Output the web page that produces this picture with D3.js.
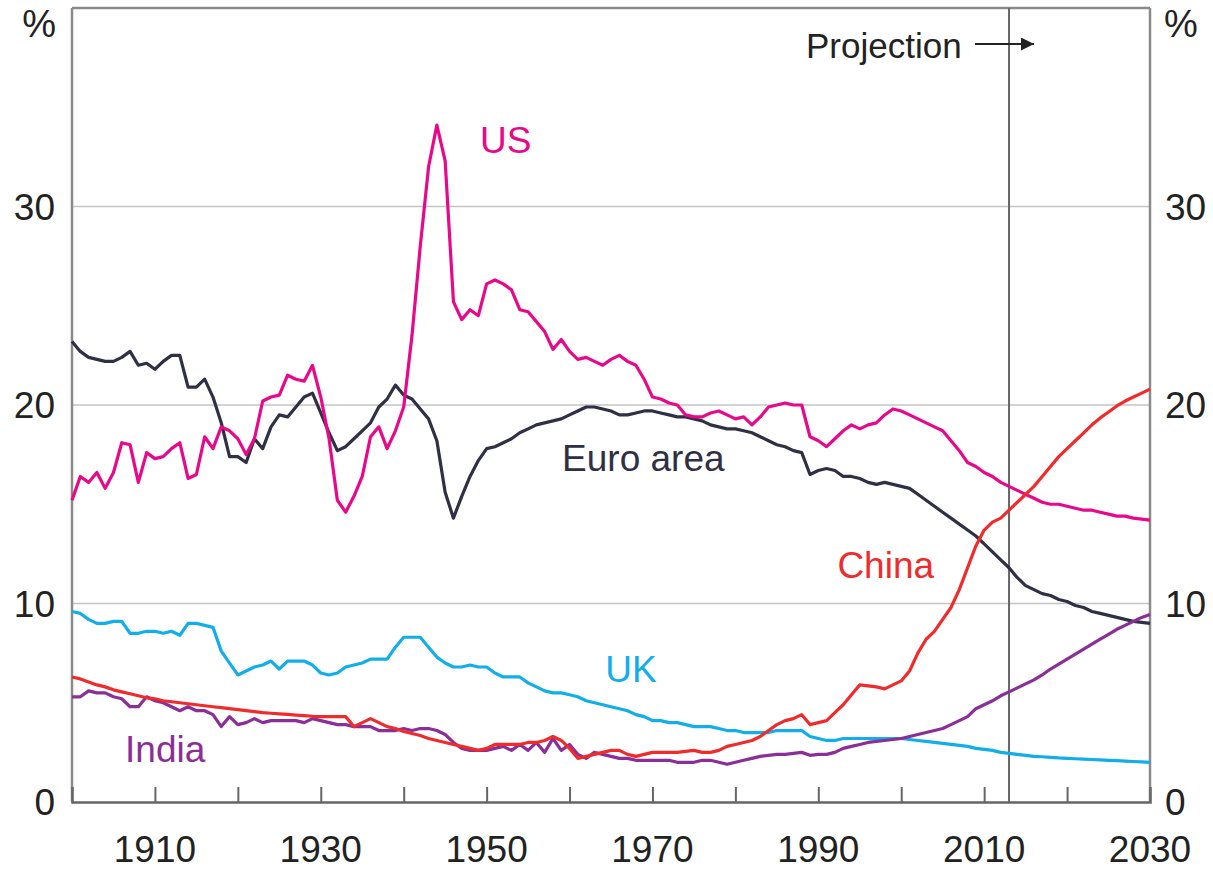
<!DOCTYPE html>
<html>
<head>
<meta charset="utf-8">
<script src="https://cdn.jsdelivr.net/npm/d3@7"></script>
<style>
html,body{margin:0;padding:0;background:#fff;}
svg{display:block;}
text{font-family:"Liberation Sans",Arial,Helvetica,sans-serif;}
</style>
</head>
<body>
<svg id="chart" width="1213" height="869"></svg>
<script>
const startYear = 1900;
const endYear = 2030;
const projectionYear = 2013;

const usValues = [
15.2,16.4,16.1,16.6,15.8,16.6,18.1,18.0,16.1,17.6,
17.3,17.4,17.8,18.1,16.3,16.5,18.4,17.8,18.9,18.7,
18.3,17.5,18.3,20.2,20.4,20.5,21.5,21.3,21.2,22.0,
20.4,18.3,15.2,14.6,15.4,16.4,18.4,18.9,17.8,18.7,
19.9,23.5,28.0,32.0,34.1,32.3,25.2,24.3,24.8,24.5,
26.1,26.3,26.1,25.8,24.8,24.7,24.2,23.7,22.8,23.3,
22.7,22.3,22.4,22.2,22.0,22.3,22.5,22.2,22.0,21.3,
20.4,20.3,20.1,20.0,19.5,19.4,19.4,19.6,19.7,19.5,
19.3,19.4,19.0,19.4,19.9,20.0,20.1,20.0,20.0,18.4,
18.2,17.9,18.3,18.7,19.0,18.8,19.0,19.1,19.5,19.8,
19.7,19.5,19.3,19.1,18.9,18.7,18.2,17.7,17.1,16.9,
16.6,16.4,16.1,15.9,15.7,15.5,15.3,15.1,15.0,15.0,
14.9,14.8,14.7,14.7,14.6,14.5,14.4,14.4,14.3,14.25,14.2];

const euroValues = [
23.2,22.7,22.4,22.3,22.2,22.2,22.4,22.7,22.0,22.1,
21.8,22.2,22.5,22.5,20.9,20.9,21.3,20.4,19.1,17.4,
17.4,17.1,18.3,17.8,18.9,19.5,19.4,19.9,20.4,20.6,
19.6,18.6,17.7,17.9,18.3,18.7,19.1,19.9,20.3,21.0,
20.5,20.3,19.8,19.3,18.2,15.6,14.3,15.4,16.4,17.2,
17.8,17.9,18.1,18.3,18.6,18.8,19.0,19.1,19.2,19.3,
19.5,19.7,19.9,19.9,19.8,19.7,19.5,19.5,19.6,19.7,
19.7,19.6,19.5,19.4,19.4,19.3,19.2,19.0,18.9,18.8,
18.8,18.7,18.6,18.4,18.2,18.0,17.9,17.7,17.6,16.5,
16.7,16.8,16.7,16.4,16.4,16.3,16.1,16.0,16.1,16.0,
15.9,15.8,15.5,15.2,14.9,14.6,14.3,14.0,13.7,13.4,
13.0,12.6,12.2,11.8,11.3,10.9,10.7,10.5,10.4,10.2,
10.1,9.9,9.8,9.6,9.5,9.4,9.3,9.2,9.1,9.05,9.0];

const ukValues = [
9.6,9.5,9.2,9.0,9.0,9.1,9.1,8.5,8.5,8.6,
8.6,8.5,8.6,8.4,9.0,9.0,8.9,8.8,7.6,7.0,
6.4,6.6,6.8,6.9,7.1,6.7,7.1,7.1,7.1,6.9,
6.5,6.4,6.5,6.8,6.9,7.0,7.2,7.2,7.2,7.8,
8.3,8.3,8.3,7.8,7.3,7.0,6.8,6.8,6.9,6.8,
6.8,6.5,6.3,6.3,6.3,6.0,5.8,5.6,5.5,5.5,
5.4,5.3,5.1,5.0,4.9,4.8,4.7,4.6,4.4,4.3,
4.1,4.1,4.0,4.0,3.9,3.8,3.8,3.8,3.7,3.6,
3.6,3.5,3.5,3.5,3.5,3.6,3.6,3.6,3.6,3.3,
3.2,3.1,3.1,3.2,3.2,3.2,3.2,3.2,3.2,3.2,
3.2,3.15,3.1,3.05,3.0,2.95,2.9,2.85,2.8,2.7,
2.65,2.6,2.5,2.45,2.4,2.35,2.3,2.28,2.25,2.22,
2.2,2.18,2.16,2.14,2.12,2.1,2.08,2.06,2.04,2.02,2.0];

const chinaValues = [
6.3,6.2,6.05,5.9,5.8,5.65,5.55,5.45,5.35,5.25,
5.2,5.1,5.05,5.0,4.95,4.9,4.85,4.8,4.75,4.7,
4.65,4.6,4.55,4.5,4.47,4.44,4.41,4.38,4.35,4.32,
4.3,4.3,4.3,4.3,3.8,4.0,4.2,4.0,3.8,3.7,
3.55,3.45,3.35,3.2,3.1,3.0,2.9,2.8,2.7,2.6,
2.7,2.9,2.9,2.9,2.9,3.0,3.0,3.1,3.3,3.1,
2.7,2.2,2.3,2.4,2.5,2.6,2.6,2.4,2.3,2.4,
2.5,2.5,2.5,2.5,2.55,2.6,2.5,2.5,2.6,2.8,
2.9,3.0,3.1,3.3,3.6,3.9,4.1,4.2,4.4,3.9,
4.0,4.1,4.5,4.9,5.4,5.9,5.85,5.8,5.7,5.9,
6.1,6.6,7.5,8.2,8.6,9.2,9.8,10.7,11.8,12.9,
13.7,14.1,14.3,14.7,15.1,15.5,15.9,16.4,16.9,17.4,
17.8,18.2,18.6,19.0,19.35,19.65,19.95,20.2,20.4,20.6,20.8];

const indiaValues = [
5.3,5.3,5.6,5.5,5.5,5.3,5.2,4.8,4.8,5.3,
5.1,5.0,4.8,4.6,4.8,4.6,4.6,4.4,3.8,4.3,
3.9,4.0,4.2,4.0,4.1,4.1,4.1,4.1,4.0,4.2,
4.1,4.0,3.9,3.9,3.8,3.8,3.8,3.6,3.6,3.6,
3.7,3.6,3.7,3.7,3.6,3.4,3.0,2.7,2.6,2.6,
2.6,2.7,2.8,2.6,2.9,2.6,3.0,2.5,3.2,2.6,
2.9,2.4,2.2,2.5,2.4,2.3,2.2,2.2,2.1,2.1,
2.1,2.1,2.1,2.0,2.0,2.0,2.1,2.1,2.0,1.9,
2.0,2.1,2.2,2.3,2.35,2.4,2.4,2.45,2.5,2.35,
2.4,2.4,2.5,2.7,2.8,2.9,3.0,3.05,3.1,3.15,
3.2,3.3,3.4,3.5,3.6,3.7,3.9,4.1,4.3,4.7,
4.9,5.1,5.35,5.55,5.75,5.95,6.15,6.4,6.7,6.95,
7.2,7.45,7.7,7.95,8.2,8.45,8.7,8.9,9.1,9.3,9.45];

const yTicks = [0, 10, 20, 30];
const xTickYears = [1910,1920,1930,1940,1950,1960,1970,1980,1990,2000,2010,2020];
const xLabelYears = [1910,1930,1950,1970,1990,2010,2030];

const seriesNames = ["Euro area","US","UK","India","China"];
const seriesColors = {"US":"#e8088a","Euro area":"#2f2f45","UK":"#12aeea","India":"#8b2e98","China":"#ef2b2b"};
const seriesData = {"US":usValues,"Euro area":euroValues,"UK":ukValues,"India":indiaValues,"China":chinaValues};
const labelPos = {"US":[1949.2,32.7],"Euro area":[1959.1,16.7],"China":[1992.3,11.3],"UK":[1964.3,6.05],"India":[1906.4,2.0]};

const svg = d3.select("#chart");
const x = d3.scaleLinear().domain([startYear, endYear]).range([72, 1150]);
const y = d3.scaleLinear().domain([0, 40]).range([802, 8]);

// gridlines
svg.append("g").selectAll("line").data(yTicks.filter(d=>d>0)).join("line")
  .attr("x1", x(startYear)).attr("x2", x(endYear))
  .attr("y1", d=>y(d)).attr("y2", d=>y(d))
  .attr("stroke", "#c4c4c4").attr("stroke-width", 1.5);

// frame
const frame = svg.append("g").attr("stroke","#8a8a8a").attr("stroke-width",2.5).attr("fill","none");
frame.append("line").attr("x1",x(startYear)).attr("x2",x(endYear)).attr("y1",y(40)).attr("y2",y(40));
frame.append("line").attr("x1",x(startYear)).attr("x2",x(startYear)).attr("y1",y(40)).attr("y2",y(0));
frame.append("line").attr("x1",x(endYear)).attr("x2",x(endYear)).attr("y1",y(40)).attr("y2",y(0));

// x axis (ticks inward)
const xAxis = d3.axisBottom(x).tickValues(xTickYears).tickSize(-15).tickFormat("");
const gx = svg.append("g").attr("transform", `translate(0,${y(0)})`).call(xAxis);
gx.select(".domain").attr("stroke","#666").attr("stroke-width",2.5);
gx.selectAll(".tick line").attr("stroke","#666").attr("stroke-width",2);

svg.append("g").selectAll("text").data(xLabelYears).join("text")
  .attr("x", d=>x(d)).attr("y", 862)
  .attr("text-anchor","middle").attr("font-size",37).attr("fill","#222")
  .text(d=>d);

// y labels
const yl = svg.append("g");
yl.selectAll("text.l").data(yTicks).join("text").attr("class","l")
  .attr("x", 55).attr("y", d=>y(d)).attr("dy","0.36em")
  .attr("text-anchor","end").attr("font-size",37).attr("fill","#222").text(d=>d);
yl.selectAll("text.r").data(yTicks).join("text").attr("class","r")
  .attr("x", 1165).attr("y", d=>y(d)).attr("dy","0.36em")
  .attr("text-anchor","start").attr("font-size",37).attr("fill","#222").text(d=>d);
svg.append("text").attr("x",56).attr("y",37).attr("text-anchor","end").attr("font-size",38).attr("fill","#222").text("%");
svg.append("text").attr("x",1164).attr("y",37).attr("text-anchor","start").attr("font-size",38).attr("fill","#222").text("%");

// projection line
svg.append("line").attr("x1",x(projectionYear)).attr("x2",x(projectionYear))
  .attr("y1",y(40)).attr("y2",y(0)).attr("stroke","#666").attr("stroke-width",2);
svg.append("text").attr("x",806).attr("y",58).attr("font-size",35).attr("fill","#222").text("Projection");
svg.append("defs").append("marker").attr("id","arr").attr("viewBox","0 0 10 10")
  .attr("refX",10).attr("refY",5).attr("markerWidth",15).attr("markerHeight",13).attr("orient","auto")
  .attr("markerUnits","userSpaceOnUse")
  .append("path").attr("d","M0,0 L10,5 L0,10 Z").attr("fill","#222");
svg.append("line").attr("x1",975).attr("x2",1034).attr("y1",44).attr("y2",44)
  .attr("stroke","#222").attr("stroke-width",2).attr("marker-end","url(#arr)");

// series
const line = d3.line().x((d,i)=>x(startYear+i)).y(d=>y(d));
svg.append("g").selectAll("path").data(seriesNames).join("path")
  .attr("d", n=>line(seriesData[n]))
  .attr("fill","none").attr("stroke", n=>seriesColors[n])
  .attr("stroke-width",3.2).attr("stroke-linejoin","round");

// series labels
svg.append("g").selectAll("text").data(seriesNames).join("text")
  .attr("x", n=>x(labelPos[n][0])).attr("y", n=>y(labelPos[n][1]))
  .attr("font-size",37).attr("fill", n=>seriesColors[n]).text(n=>n);
</script>
</body>
</html>
